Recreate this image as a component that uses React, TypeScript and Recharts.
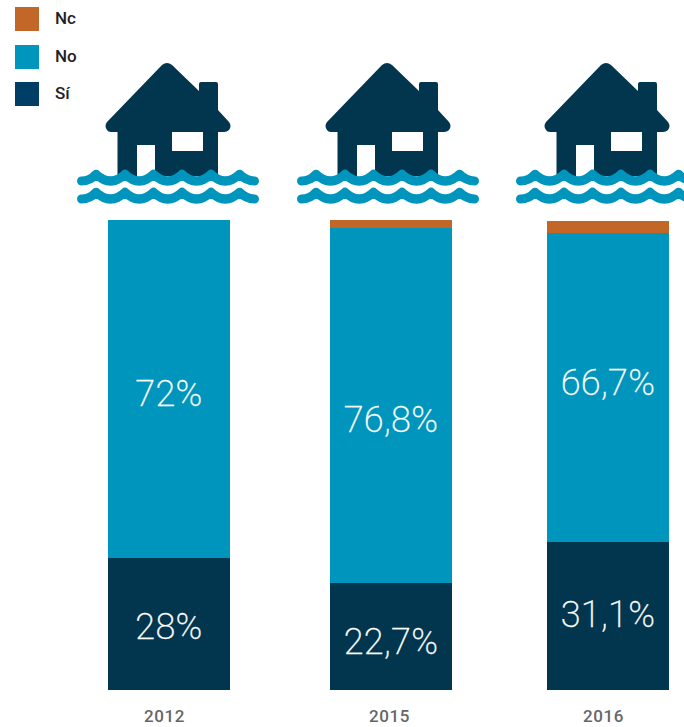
import { BarChart, Bar, XAxis, YAxis, LabelList } from 'recharts'

const YEARS = ['2012', '2015', '2016']
// bar heights as drawn; the printed percentages below do not always add up to them
const SI_VALUES = [28, 22.7, 31.4]
const NO_VALUES = [72, 75.6, 65.8]
const NC_VALUES = [0, 1.7, 2.6]
const SI_LABELS = ['28%', '22,7%', '31,1%']
const NO_LABELS = ['72%', '76,8%', '66,7%']
const LEGEND_NAMES = ['Nc', 'No', 'Sí']

const COLORS = {
  nc: '#c26727',
  no: '#0095bc',
  si: '#02364e',
  siLegend: '#003e66',
}

const LEGEND_COLORS = [COLORS.nc, COLORS.no, COLORS.siLegend]
const LEGEND_TOPS = [7, 45, 82]

// the columns are not evenly spaced in the original
const COLUMN_LEFT = [77, 297, 516]
const BAR_INSET = [31, 33, 31]
const TICK_DX = [-4.5, -1.5, -4.5]
const NO_LABEL_DY = [4.5, 14.5, -4.5]
const SI_LABEL_DY = [3, 5.5, -1.5]

const LABEL_FONT = 'Roboto, sans-serif'

function waveLine(y: number) {
  const crests = [19, 48, 76.5, 105, 134, 162.5]
  let d = `M4.5,${y} Q13,${y} ${crests[0]},${y - 6.8}`
  for (let i = 1; i < crests.length; i++) {
    d += ` Q${(crests[i - 1] + crests[i]) / 2},${y + 6.8} ${crests[i]},${y - 6.8}`
  }
  d += ` Q169,${y} 177.5,${y}`
  return d
}

function FloodedHouse() {
  return (
    <g>
      <path
        fill={COLORS.si}
        fillRule="evenodd"
        d="M85,65 Q90,61 95,65 L122,91 L122,84 Q122,82 124,82 L139,82 Q141,82 141,84 L141,110 L152,122 Q155,126 152,130 Q150,132 147,132 L141,132 L141,176 L78,176 L78,145 L60,145 L60,176 L40.5,176 L40.5,132 L34,132 Q31,132 30,130 Q27,126 30,122 Z M95,132 L95,151 L126,151 L126,132 Z"
      />
      <path d={waveLine(181)} fill="none" stroke={COLORS.no} strokeWidth={9} strokeLinecap="round" strokeLinejoin="round" />
      <path d={waveLine(199)} fill="none" stroke={COLORS.no} strokeWidth={9} strokeLinecap="round" strokeLinejoin="round" />
    </g>
  )
}

function percentLabel(texts: string[], shifts: number[], column: number) {
  return (props: any) => (
    <text
      x={props.x + props.width / 2}
      y={props.y + props.height / 2 + shifts[column]}
      textAnchor="middle"
      dominantBaseline="central"
      fill="#ffffff"
      fontFamily={LABEL_FONT}
      fontWeight={200}
      fontSize={36}
      letterSpacing={0.3}
      stroke="#ffffff"
      strokeWidth={0.3}
    >
      {texts[column]}
    </text>
  )
}

function YearColumn({ column }: { column: number }) {
  const rows = [
    {
      year: YEARS[column],
      si: SI_VALUES[column],
      no: NO_VALUES[column],
      nc: NC_VALUES[column],
    },
  ]
  const inset = BAR_INSET[column]
  return (
    <div style={{ position: 'absolute', left: COLUMN_LEFT[column], top: 0 }}>
      <BarChart
        width={184}
        height={727}
        data={rows}
        barCategoryGap={0}
        margin={{ top: 220, right: 62 - inset, bottom: 7, left: inset }}
      >
        <XAxis
          dataKey="year"
          axisLine={false}
          tickLine={false}
          height={30}
          dx={TICK_DX[column]}
          dy={12}
          tick={{ fill: '#666666', fontSize: 17, fontWeight: 500, fontFamily: LABEL_FONT, letterSpacing: 0.6 }}
        />
        <YAxis hide domain={[0, 100]} />
        <Bar dataKey="si" stackId="a" fill={COLORS.si} shapeRendering="crispEdges" isAnimationActive={false}>
          <LabelList dataKey="si" content={percentLabel(SI_LABELS, SI_LABEL_DY, column)} />
        </Bar>
        <Bar dataKey="no" stackId="a" fill={COLORS.no} shapeRendering="crispEdges" isAnimationActive={false}>
          <LabelList dataKey="no" content={percentLabel(NO_LABELS, NO_LABEL_DY, column)} />
        </Bar>
        <Bar dataKey="nc" stackId="a" fill={COLORS.nc} shapeRendering="crispEdges" isAnimationActive={false} />
        <FloodedHouse />
      </BarChart>
    </div>
  )
}

export default function App() {
  return (
    <div style={{ position: 'absolute', left: 0, top: 0, width: 684, height: 727, overflow: 'hidden', background: '#fff' }}>
      {LEGEND_NAMES.map((name, i) => (
        <div key={name}>
          <div style={{ position: 'absolute', left: 15, top: LEGEND_TOPS[i], width: 24, height: 24, background: LEGEND_COLORS[i] }} />
          <div
            style={{
              position: 'absolute',
              left: 55,
              top: LEGEND_TOPS[i] - 1,
              lineHeight: '24px',
              fontFamily: LABEL_FONT,
              fontWeight: 500,
              fontSize: 17,
              color: '#222',
            }}
          >
            {name}
          </div>
        </div>
      ))}
      {YEARS.map((year, i) => (
        <YearColumn key={year} column={i} />
      ))}
    </div>
  )
}
